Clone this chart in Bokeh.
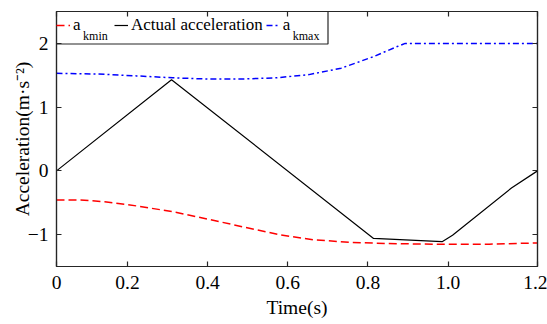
from bokeh.plotting import figure
from bokeh.models import Range1d, FixedTicker, LinearAxis, Legend, LegendItem
from bokeh.core.properties import value
from bokeh.embed import file_html
from bokeh.resources import INLINE

# ---------------- data ----------------
t_actual = [0.000, 0.287, 0.791, 0.962, 0.988, 1.135, 1.200]
acc_actual = [0.00, 1.43, -1.06, -1.11, -1.01, -0.27, 0.00]

t_kmin = [0.00, 0.06, 0.12, 0.20, 0.29, 0.38, 0.47, 0.56, 0.64, 0.73, 0.82, 0.95, 1.08, 1.20]
acc_kmin = [-0.456, -0.455, -0.485, -0.55, -0.64, -0.76, -0.885, -1.005, -1.08, -1.12,
            -1.14, -1.15, -1.15, -1.13]

t_kmax = [0.00, 0.10, 0.20, 0.29, 0.38, 0.46, 0.55, 0.63, 0.71, 0.79, 0.85, 0.87, 1.20]
acc_kmax = [1.53, 1.52, 1.49, 1.46, 1.44, 1.44, 1.46, 1.51, 1.61, 1.79, 1.95, 2.00, 2.00]

x_tick_pos = [0.0, 0.177, 0.377, 0.577, 0.777, 0.977, 1.2]
x_tick_labels = ["0", "0.2", "0.4", "0.6", "0.8", "1.0", "1.2"]
y_ticks = [-1, 0, 1, 2]
y_tick_labels = ["\u22121", "0", "1", "2"]

legend_labels = ["a", "Actual acceleration", "a"]
legend_subs = ["kmin", "kmax"]

FONT = "'Liberation Serif', 'Times New Roman', serif"
AX = "#262626"

W, H = 547, 324
BL, BR, BT, BB = 56, 10, 11, 58
X0, X1, Y0, Y1 = 0.0, 1.2, -1.5, 2.5

p = figure(width=W, height=H, x_range=Range1d(X0, X1), y_range=Range1d(Y0, Y1),
           output_backend="svg", toolbar_location=None,
           min_border_left=BL, min_border_right=BR, min_border_top=BT, min_border_bottom=BB)
p.xgrid.visible = False
p.ygrid.visible = False
p.background_fill_color = "white"
p.border_fill_color = "white"
p.outline_line_color = AX
p.outline_line_width = 1.2

xa = p.xaxis[0]
ya = p.yaxis[0]
xa.ticker = FixedTicker(ticks=x_tick_pos)
xa.major_label_overrides = dict(zip(x_tick_pos, x_tick_labels))
ya.ticker = FixedTicker(ticks=y_ticks)
ya.major_label_overrides = dict(zip(y_ticks, y_tick_labels))
xa.axis_label = "Time(s)"
ya.axis_label = "Acceleration(m\u00b7s\u207b\u00b2)"

for ax in (xa, ya):
    ax.major_tick_in = 5
    ax.major_tick_out = 0
    ax.minor_tick_line_color = None
    ax.axis_line_color = AX
    ax.axis_line_width = 1.2
    ax.major_tick_line_color = AX
    ax.major_tick_line_width = 1.2
    ax.major_label_text_font = FONT
    ax.major_label_text_font_size = "19.5px"
    ax.major_label_text_color = "black"
    ax.axis_label_text_font = FONT
    ax.axis_label_text_font_size = "19.5px"
    ax.axis_label_text_font_style = "normal"
    ax.axis_label_text_color = "black"
xa.major_label_standoff = 9
xa.axis_label_standoff = 5
ya.major_label_standoff = 8
ya.axis_label_standoff = -8


def tick_only_axis(ticks):
    return LinearAxis(ticker=FixedTicker(ticks=ticks),
                      major_label_overrides={t: "" for t in ticks},
                      major_label_text_font_size="1px", major_label_standoff=0,
                      major_tick_in=5, major_tick_out=0, minor_tick_line_color=None,
                      axis_line_color=AX, axis_line_width=1.2,
                      major_tick_line_color=AX, major_tick_line_width=1.2)


p.add_layout(tick_only_axis(y_ticks), "right")
p.add_layout(tick_only_axis(x_tick_pos), "above")

frame_w = W - BL - BR
frame_h = H - BT - BB

r_min = p.line(t_kmin, acc_kmin, line_color="#ff0000", line_dash="8 4", line_width=1.5)
r_act = p.line(t_actual, acc_actual, line_color="black", line_width=1.2)
r_max = p.line(t_kmax, acc_kmax, line_color="#0000ff", line_dash="6 3 2 3", line_width=1.5)

# legend frame: right and bottom edges (top/left coincide with the plot frame)
box_w_px, box_h_px = 271.5, 32.5
box_r = X0 + box_w_px * (X1 - X0) / frame_w
box_b = Y1 - box_h_px * (Y1 - Y0) / frame_h
p.line(x=[box_r, box_r, X0], y=[Y1, box_b, box_b], line_color=AX, line_width=1.2)

PAD, GW, STAND, SPACING, LW = 2, 14, 3, 3, 38
LFS, SFS = 17, 12
legend = Legend(items=[LegendItem(label=legend_labels[0], renderers=[r_min]),
                       LegendItem(label=legend_labels[1], renderers=[r_act]),
                       LegendItem(label=legend_labels[2], renderers=[r_max])],
                orientation="horizontal", location="top_left", margin=0, padding=PAD,
                spacing=SPACING, glyph_width=GW, glyph_height=28, label_height=28,
                label_width=LW, label_standoff=STAND, label_text_font=FONT,
                label_text_font_size=f"{LFS}px", label_text_color="black",
                border_line_color=None,
                background_fill_color=None, background_fill_alpha=0.0)
p.add_layout(legend)

# subscripts of the two legend labels, placed from the legend layout parameters
a_w = 0.444 * LFS
act_w = 7.747 * LFS
sub_px = [PAD + GW + STAND + a_w,
          PAD + (GW + STAND + LW) + SPACING + (GW + STAND + act_w) + SPACING + GW + STAND + a_w]
sub_dy_px = 24.0
p.text(x=[X0 + s * (X1 - X0) / frame_w for s in sub_px],
       y=[Y1 - sub_dy_px * (Y1 - Y0) / frame_h] * len(sub_px),
       text=legend_subs, text_font=value(FONT), text_font_size=f"{SFS}px",
       text_baseline="alphabetic", text_align="left", text_color="black")

open("out.html", "w").write(file_html(p, INLINE))
